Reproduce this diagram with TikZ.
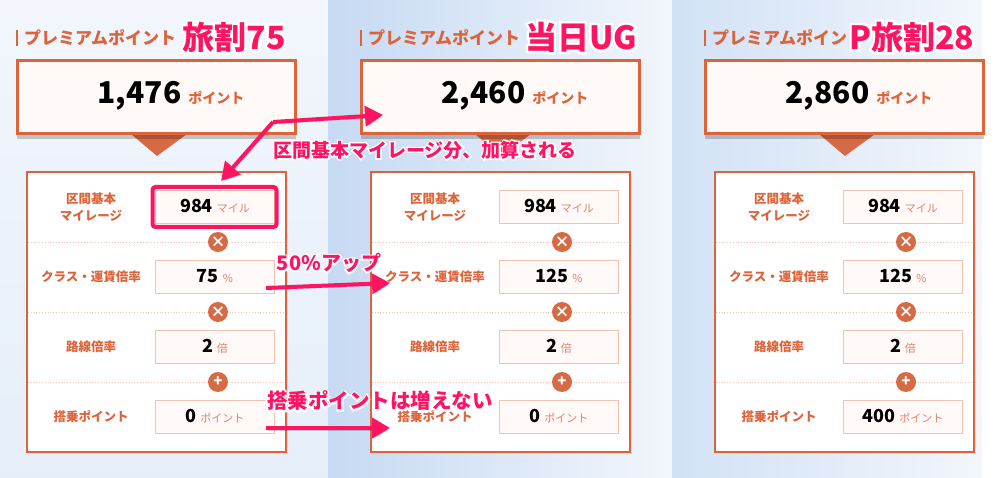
\documentclass[tikz,border=0pt]{standalone}
\usepackage{fontspec}
\setmainfont{Noto Sans CJK JP}
\newfontfamily\halofont[FakeBold=15]{Noto Sans CJK JP}
\usetikzlibrary{
  arrows.meta,
  shadows
}

\definecolor{ptorange}{HTML}{DD643A}
\definecolor{ptbutton}{HTML}{D66A45}
\definecolor{ptunit}{HTML}{E2826F}
\definecolor{ptline}{HTML}{F0C2B2}
\definecolor{ptfill}{HTML}{FFF9F7}
\definecolor{hotpink}{HTML}{FF1464}
\definecolor{skydeep}{HTML}{C6DAF3}
\definecolor{skypale}{HTML}{F2F6FC}

\newcommand{\val}[2]{{\bfseries\fontsize{18}{20}\selectfont #1}\hspace{4pt}{\color{ptunit}\fontsize{11}{13}\selectfont #2}}
% pink note with a white rim under it
\newcommand{\callnote}[4]{%
  \node[pinknote,#3,text=white] at #2 {\halofont #4};
  \node[pinknote,#3] (#1) at #2 {#4};}

\tikzset{
  topbox/.style={draw=ptorange, line width=3pt, fill=ptfill, minimum width=278pt, minimum height=73pt, inner sep=0pt},
  card/.style={draw=ptorange, line width=1.2pt, fill=white, minimum width=259pt, minimum height=280pt, inner sep=0pt,
    drop shadow={shadow xshift=1.5pt, shadow yshift=-2pt, opacity=.15}},
  valbox/.style={draw=ptline, line width=1pt, fill=ptfill, minimum width=119pt, minimum height=33pt, inner sep=0pt},
  rowlab/.style={text=ptorange, font=\bfseries\fontsize{12.5}{17}\selectfont, align=center, inner sep=0pt},
  op/.style={circle, fill=ptbutton, text=white, minimum size=20pt, inner sep=0pt, font=\bfseries\fontsize{15}{15}\selectfont},
  sepline/.style={draw=ptline, dotted, line width=0.8pt},
  pinknote/.style={text=hotpink, font=\bfseries\fontsize{20}{22}\selectfont, inner sep=0pt},
  bignote/.style={font=\bfseries\fontsize{32}{34}\selectfont},
  pinkarrow/.style={draw=hotpink, line width=4pt, -{Triangle[length=18pt,width=20pt]},
    preaction={draw=black, opacity=.2, transform canvas={shift={(1.5pt,-2pt)}}}}
}

\begin{document}
\begin{tikzpicture}[x=1pt,y=-1pt]
  \useasboundingbox (0,0) rectangle (1002,478);
  % sky behind the three screens
  \fill[top color=skypale, bottom color=skydeep!45!white] (0,0) rectangle (328,478);
  \fill[left color=skydeep, right color=skypale] (328,0) rectangle (672,478);
  \fill[left color=skydeep!80!white, right color=skypale] (672,0) rectangle (982,478);
  \fill[white] (982,0) rectangle (1002,478);

  \foreach \i/\o/\tot/\cls/\bon in {1/0/{1,476}/75/0, 2/344/{2,460}/125/0, 3/688/{2,860}/125/400}{
    % header
    \fill[ptorange] (\o+16,30) rectangle (\o+18,46);
    \node[anchor=west, text=ptorange, font=\bfseries\fontsize{17}{18}\selectfont, inner sep=0pt] (head\i) at (\o+24,38) {プレミアムポイント};
    % total
    \fill[ptbutton] (\o+131,134) -- (\o+187,134) -- (\o+157,156) -- cycle;
    \fill[black, opacity=.2] (\o+17,134) rectangle (\o+296,139);
    \node[topbox] (top\i) at (\o+156,97) {};
    \node[anchor=base, inner sep=0pt] (tot\i) at (\o+171,104)
      {{\bfseries\fontsize{30}{32}\selectfont\tot}\hspace{7pt}{\bfseries\color{ptorange}\fontsize{14}{16}\selectfont ポイント}};
    % breakdown
    \node[card] (card\i) at (\o+156.5,312) {};
    \foreach \y in {242,312,382}
      \draw[sepline] (\o+28,\y) -- (\o+285,\y);
    \node[rowlab] (lab1\i) at (\o+91,207) {区間基本\\マイレージ};
    \node[rowlab] (lab2\i) at (\o+91,277) {クラス・運賃倍率};
    \node[rowlab] (lab3\i) at (\o+91,347) {路線倍率};
    \node[rowlab] (lab4\i) at (\o+91,417) {搭乗ポイント};
    \node[valbox] (mile\i) at (\o+214.5,207) {};
    \node[valbox] (rate\i) at (\o+214.5,277) {};
    \node[valbox] (route\i) at (\o+214.5,347) {};
    \node[valbox] (bonus\i) at (\o+214.5,417) {};
    \node[anchor=base, inner sep=0pt] (milev\i) at (\o+215,213) {\val{984}{マイル}};
    \node[anchor=base, inner sep=0pt] (ratev\i) at (\o+215,283) {\val{\cls}{\%}};
    \node[anchor=base, inner sep=0pt] (routev\i) at (\o+215,353) {\val{2}{倍}};
    \node[anchor=base, inner sep=0pt] (bonusv\i) at (\o+215,423) {\val{\bon}{ポイント}};
    \node[op] (times\i) at (\o+218,242) {×};
    \node[op] (timesb\i) at (\o+218,312) {×};
    \node[op] (plus\i) at (\o+218,382) {+};
  }

  % notes on top
  \callnote{tag1}{(234,37)}{bignote}{旅割75}
  \callnote{tag2}{(581,37)}{bignote}{当日UG}
  \callnote{tag3}{(912,37)}{bignote}{P旅割28}

  \node[draw=hotpink, line width=4pt, rounded corners=3pt, minimum width=124pt, minimum height=40pt] (hilite) at (mile1) {};

  \coordinate (fork) at (273,122);
  \coordinate (tipa) at (383,115);
  \coordinate (tipb) at (221,181);
  \coordinate (starc) at (266,288);
  \coordinate (tipc) at (390,283);
  \coordinate (stard) at (266,428);
  \coordinate (tipd) at (390,428);
  \draw[pinkarrow] (fork) -- (tipa);
  \draw[pinkarrow] (fork) -- (tipb);
  \draw[pinkarrow] (starc) -- (tipc);
  \draw[pinkarrow] (stard) -- (tipd);

  \callnote{addnote}{(425,150)}{font=\bfseries\fontsize{19}{21}\selectfont}{区間基本マイレージ分、加算される}
  \callnote{upnote}{(329,263)}{}{50\%アップ}
  \callnote{samenote}{(380,401)}{font=\bfseries\fontsize{20.5}{22}\selectfont}{搭乗ポイントは増えない}
\end{tikzpicture}
\end{document}
